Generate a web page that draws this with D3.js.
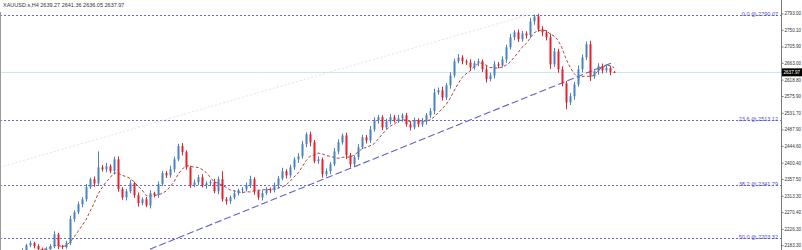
<!DOCTYPE html>
<html>
<head>
<meta charset="utf-8">
<script src="https://cdn.jsdelivr.net/npm/d3@7/dist/d3.min.js"></script>
<style>
  html, body { margin: 0; padding: 0; background: #fff; }
  svg { display: block; font-family: "Liberation Sans", "DejaVu Sans", sans-serif; }
</style>
</head>
<body>
<svg id="chart" width="802" height="250"></svg>
<script>
var symbolName = 'XAUUSD.s,H4';

// H4 closes left to right
var closes = [
  2141, 2133, 2141, 2152, 2160, 2168, 2183, 2189, 2181, 2173,
  2165, 2173, 2181, 2212, 2181, 2178, 2189, 2252, 2270, 2291,
  2304, 2336, 2357, 2346, 2388, 2383, 2391, 2378, 2409, 2331,
  2309, 2325, 2346, 2315, 2294, 2304, 2288, 2320, 2315, 2344,
  2373, 2367, 2383, 2409, 2444, 2428, 2388, 2341, 2349, 2362,
  2341, 2346, 2349, 2325, 2357, 2304, 2299, 2309, 2320, 2328,
  2330, 2341, 2357, 2325, 2309, 2320, 2330, 2328, 2341, 2359,
  2378, 2367, 2388, 2409, 2417, 2449, 2475, 2454, 2404, 2409,
  2370, 2378, 2396, 2430, 2454, 2472, 2420, 2396, 2415, 2441,
  2467, 2459, 2488, 2512, 2520, 2493, 2509, 2520, 2512, 2517,
  2525, 2501, 2493, 2512, 2501, 2509, 2525, 2536, 2585, 2591,
  2572, 2604, 2630, 2667, 2677, 2667, 2664, 2651, 2662, 2667,
  2646, 2620, 2630, 2659, 2656, 2672, 2704, 2730, 2743, 2725,
  2740, 2735, 2772, 2785, 2751, 2743, 2730, 2659, 2693, 2646,
  2609, 2559, 2575, 2606, 2646, 2677, 2712, 2627, 2641, 2654,
  2643, 2649, 2639.27, 2637.97
];
var firstOpen = 2150;

var upperWicks = [
  5, 4, 6, 3, 5, 7, 4, 6, 3, 5,
  4, 6, 5, 8, 4, 3, 6, 9, 5, 7,
  6, 8, 4, 7, 42, 6, 9, 5, 7, 8,
  5, 6, 9, 4, 7, 5, 6, 8, 4, 7,
  6, 5, 9, 7, 6, 8, 5, 4, 7, 6,
  8, 5, 6, 9, 7, 21, 6, 5, 8, 4,
  6, 7, 9, 5, 4, 8, 6, 5, 7, 6,
  9, 5, 7, 6, 8, 9, 5, 7, 6, 8,
  5, 7, 6, 9, 8, 5, 7, 6, 5, 8,
  7, 6, 9, 8, 6, 5, 7, 8, 6, 9,
  5, 6, 8, 7, 5, 9, 6, 8, 10, 7,
  9, 6, 8, 7, 9, 6, 5, 8, 6, 7,
  5, 8, 7, 9, 6, 8, 7, 9, 6, 8,
  7, 6, 9, 5, 7, 8, 6, 10, 9, 7,
  8, 6, 9, 7, 10, 8, 7, 9, 6, 8,
  7, 9, 6, 2.09
];
var lowerWicks = [
  4, 6, 5, 3, 6, 4, 7, 5, 6, 4,
  7, 5, 4, 6, 8, 5, 4, 6, 7, 5,
  8, 6, 5, 9, 7, 6, 8, 5, 9, 7,
  6, 8, 5, 7, 9, 6, 5, 8, 6, 7,
  5, 7, 6, 8, 5, 9, 6, 7, 5, 8,
  6, 9, 7, 5, 8, 6, 9, 7, 5, 6,
  8, 5, 7, 9, 6, 8, 5, 7, 6, 9,
  5, 8, 6, 7, 9, 6, 8, 11, 5, 7,
  9, 6, 8, 5, 7, 6, 10, 8, 6, 7,
  5, 8, 7, 6, 9, 7, 5, 8, 6, 7,
  9, 6, 8, 5, 7, 6, 9, 7, 8, 6,
  8, 7, 9, 6, 5, 8, 7, 9, 6, 8,
  7, 9, 6, 8, 7, 5, 9, 6, 8, 7,
  6, 8, 7, 9, 6, 10, 8, 12, 7, 9,
  8, 18, 7, 9, 6, 8, 7, 12, 6, 9,
  8, 6, 9, 1.92
];

var priceTicks = [2793.00, 2750.10, 2705.90, 2663.00, 2618.80, 2575.90, 2531.70,
  2487.90, 2444.60, 2400.40, 2357.50, 2313.30, 2270.40, 2226.30, 2183.30];

var fibLevels = ['0.0', '23.6', '38.2', '50.0'];
var fibPrices = [2790.07, 2513.12, 2341.79, 2203.32];

// trend line anchors: [bar index, price]
var trendLine = [[37, 2172.8], [152.75, 2664.2]];
var faintLine = [[-0.5, 2388.3], [132, 2790.4]];

var maPeriod = 8;

var width = 802;
var height = 250;
var plotRight = 781;

var candles = closes.map(function (c, i) {
  var o = i === 0 ? firstOpen : closes[i - 1];
  return {
    i: i,
    open: o,
    close: c,
    high: Math.max(o, c) + upperWicks[i],
    low: Math.min(o, c) - lowerWicks[i]
  };
});

var x = d3.scaleLinear().domain([0, closes.length - 1]).range([2, 614]);
var y = d3.scaleLinear().domain([2793.0, 2183.3]).range([13.4, 245.2]);

var svg = d3.select('#chart');

svg.append('defs').append('clipPath').attr('id', 'plot')
  .append('rect').attr('x', 0).attr('y', 0).attr('width', plotRight).attr('height', height);

var plot = svg.append('g').attr('clip-path', 'url(#plot)');

// left frame edge
svg.append('line')
  .attr('x1', 0.5).attr('x2', 0.5).attr('y1', 12).attr('y2', height)
  .attr('stroke', '#9a9a9a');

var last = candles[candles.length - 1];

// current price line
plot.append('line')
  .attr('x1', 0).attr('x2', plotRight)
  .attr('y1', Math.round(y(last.close)) + 0.5).attr('y2', Math.round(y(last.close)) + 0.5)
  .attr('stroke', '#c4eaf0');

// fibo levels
fibPrices.forEach(function (p, k) {
  var yy = Math.round(y(p)) + 0.5;
  plot.append('line')
    .attr('x1', 0).attr('x2', plotRight)
    .attr('y1', yy).attr('y2', yy)
    .attr('stroke', '#6a6ad0')
    .attr('stroke-dasharray', '2,2');
  svg.append('text')
    .attr('x', plotRight - 3).attr('y', yy + 0.5)
    .attr('text-anchor', 'end')
    .attr('font-size', 5.5)
    .attr('fill', '#5050c8')
    .text(fibLevels[k] + ' @ ' + p.toFixed(2));
});

var line = d3.line()
  .x(function (d) { return x(d[0]); })
  .y(function (d) { return y(d[1]); });

plot.append('path')
  .attr('d', line(faintLine))
  .attr('fill', 'none')
  .attr('stroke', '#e4e4e4')
  .attr('stroke-dasharray', '2,2');

plot.append('path')
  .attr('d', line(trendLine))
  .attr('fill', 'none')
  .attr('stroke', '#6262c4')
  .attr('stroke-width', 1.1)
  .attr('stroke-dasharray', '7,3');

// moving average of the closes
var ma = [];
for (var i = maPeriod - 1; i < closes.length; i++) {
  ma.push([i, d3.mean(closes.slice(i - maPeriod + 1, i + 1))]);
}
plot.append('path')
  .attr('d', line(ma))
  .attr('fill', 'none')
  .attr('stroke', '#a84a44')
  .attr('stroke-dasharray', '3,2');

function candleColor(d) {
  return d.close >= d.open ? '#4b82c2' : '#e2222c';
}

var bars = plot.selectAll('.candle').data(candles).enter()
  .append('g').classed('candle', true);

bars.append('line')
  .attr('x1', function (d) { return Math.round(x(d.i)) + 0.5; })
  .attr('x2', function (d) { return Math.round(x(d.i)) + 0.5; })
  .attr('y1', function (d) { return y(d.high); })
  .attr('y2', function (d) { return y(d.low); })
  .attr('stroke', candleColor);

bars.append('rect')
  .attr('x', function (d) { return Math.round(x(d.i)) - 0.5; })
  .attr('width', 2)
  .attr('y', function (d) { return y(Math.max(d.open, d.close)); })
  .attr('height', function (d) {
    return Math.max(1, Math.abs(y(d.open) - y(d.close)));
  })
  .attr('fill', candleColor);

// price scale
svg.append('line')
  .attr('x1', plotRight + 0.5).attr('x2', plotRight + 0.5)
  .attr('y1', 0).attr('y2', height)
  .attr('stroke', '#7a7a7a');

var axis = d3.axisRight(y)
  .tickValues(priceTicks)
  .tickSize(2)
  .tickPadding(1)
  .tickFormat(d3.format('.2f'));

var axisG = svg.append('g')
  .attr('transform', 'translate(' + (plotRight + 0.5) + ',0)')
  .call(axis);
// d3 puts its own font on the group, so override it afterwards
axisG
  .attr('font-size', 4.6)
  .attr('font-family', '"Liberation Sans", sans-serif');
axisG.select('.domain').remove();
axisG.selectAll('line').attr('stroke', '#7a7a7a');
axisG.selectAll('text').attr('fill', '#333');

// current price tag
var cy = y(last.close);
svg.append('rect')
  .attr('x', plotRight + 1).attr('y', cy - 4)
  .attr('width', width - plotRight - 1).attr('height', 8)
  .attr('fill', '#000');
svg.append('text')
  .attr('x', plotRight + 2.5).attr('y', cy + 1.7)
  .attr('font-size', 4.6)
  .attr('fill', '#fff')
  .text(last.close.toFixed(2));

// header
svg.append('text')
  .attr('x', 3).attr('y', 7)
  .attr('font-size', 5.5)
  .attr('fill', '#333')
  .text(symbolName + '  ' + [last.open, last.high, last.low, last.close].map(function (v) {
    return v.toFixed(2);
  }).join(' '));
</script>
</body>
</html>
